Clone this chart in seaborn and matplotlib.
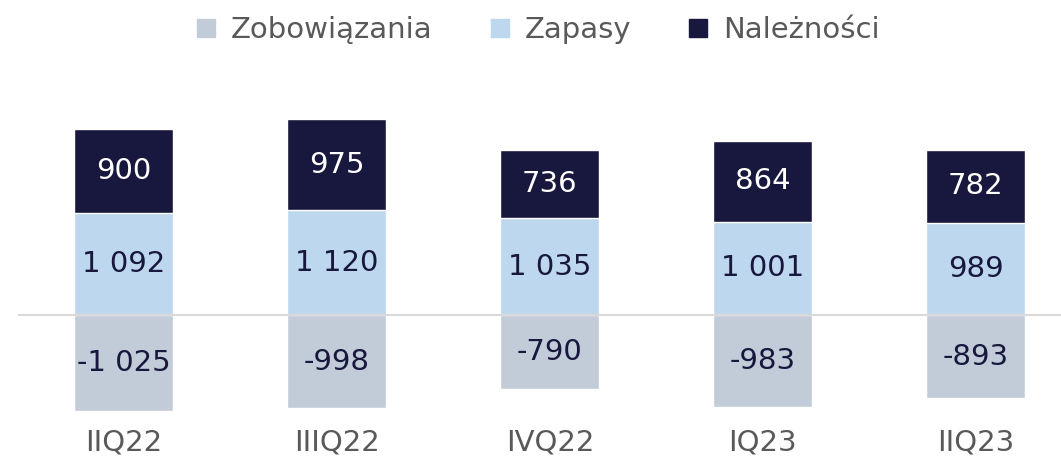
import numpy as np
import matplotlib
matplotlib.use("Agg")
import matplotlib.pyplot as plt
from matplotlib.lines import Line2D
import seaborn as sns

# dane
kwartaly = ["IIQ22", "IIIQ22", "IVQ22", "IQ23", "IIQ23"]
zobowiazania = [-1025, -998, -790, -983, -893]
zapasy = [1092, 1120, 1035, 1001, 989]
naleznosci = [900, 975, 736, 864, 782]

kolor_zob = "#C2CCD8"
kolor_zap = "#BDD7EE"
kolor_nal = "#18173D"

sns.set_theme(style="white")
plt.rcParams["font.family"] = ["DejaVu Sans"]

fig = plt.figure(figsize=(10.61, 4.59), dpi=100)
ax = fig.add_axes([17.5 / 1061, 39 / 459, 1 - 17.5 / 1061, 360 / 459])

suma = np.array(zapasy) + np.array(naleznosci)
szer = 0.465

# górna część stosu = zapasy + należności, potem zapasy na wierzchu
sns.barplot(x=kwartaly, y=suma, color=kolor_nal, saturation=1, width=szer, ax=ax)
sns.barplot(x=kwartaly, y=zapasy, color=kolor_zap, saturation=1, width=szer, ax=ax)
sns.barplot(x=kwartaly, y=zobowiazania, color=kolor_zob, saturation=1, width=szer, ax=ax)

def fmt(v):
    s = f"{abs(v):,}".replace(",", " ")
    return "-" + s if v < 0 else s

rozm = 21
for i in range(len(kwartaly)):
    ax.text(i, zapasy[i] + naleznosci[i] / 2, fmt(naleznosci[i]), ha="center", va="center",
            color="white", fontsize=rozm)
    ax.text(i, zapasy[i] / 2, fmt(zapasy[i]), ha="center", va="center",
            color=kolor_nal, fontsize=rozm)
    ax.text(i, zobowiazania[i] / 2, fmt(zobowiazania[i]), ha="center", va="center",
            color=kolor_nal, fontsize=rozm)

ax.axhline(0, color="#D9D9D9", lw=1.5, zorder=5)
ax.set_xlim(-0.5, 4.4)
ax.set_ylim(-1124, 2730)
ax.set_yticks([])
ax.tick_params(axis="x", length=0, labelsize=rozm, labelcolor="#595959", pad=6)
ax.set_xlabel("")
ax.set_ylabel("")
sns.despine(ax=ax, left=True, bottom=True)

uchwyty = [
    Line2D([], [], marker="s", ls="", color=kolor_zob, markersize=13, label="Zobowiązania"),
    Line2D([], [], marker="s", ls="", color=kolor_zap, markersize=13, label="Zapasy"),
    Line2D([], [], marker="s", ls="", color=kolor_nal, markersize=13, label="Należności"),
]
leg = fig.legend(handles=uchwyty, loc="upper center", bbox_to_anchor=(0.505, 1.022), ncol=3,
                 frameon=False, fontsize=rozm, handletextpad=0.35, columnspacing=1.8,
                 handlelength=1.0)
for t in leg.get_texts():
    t.set_color("#595959")

fig.savefig("out.png", dpi=100)
